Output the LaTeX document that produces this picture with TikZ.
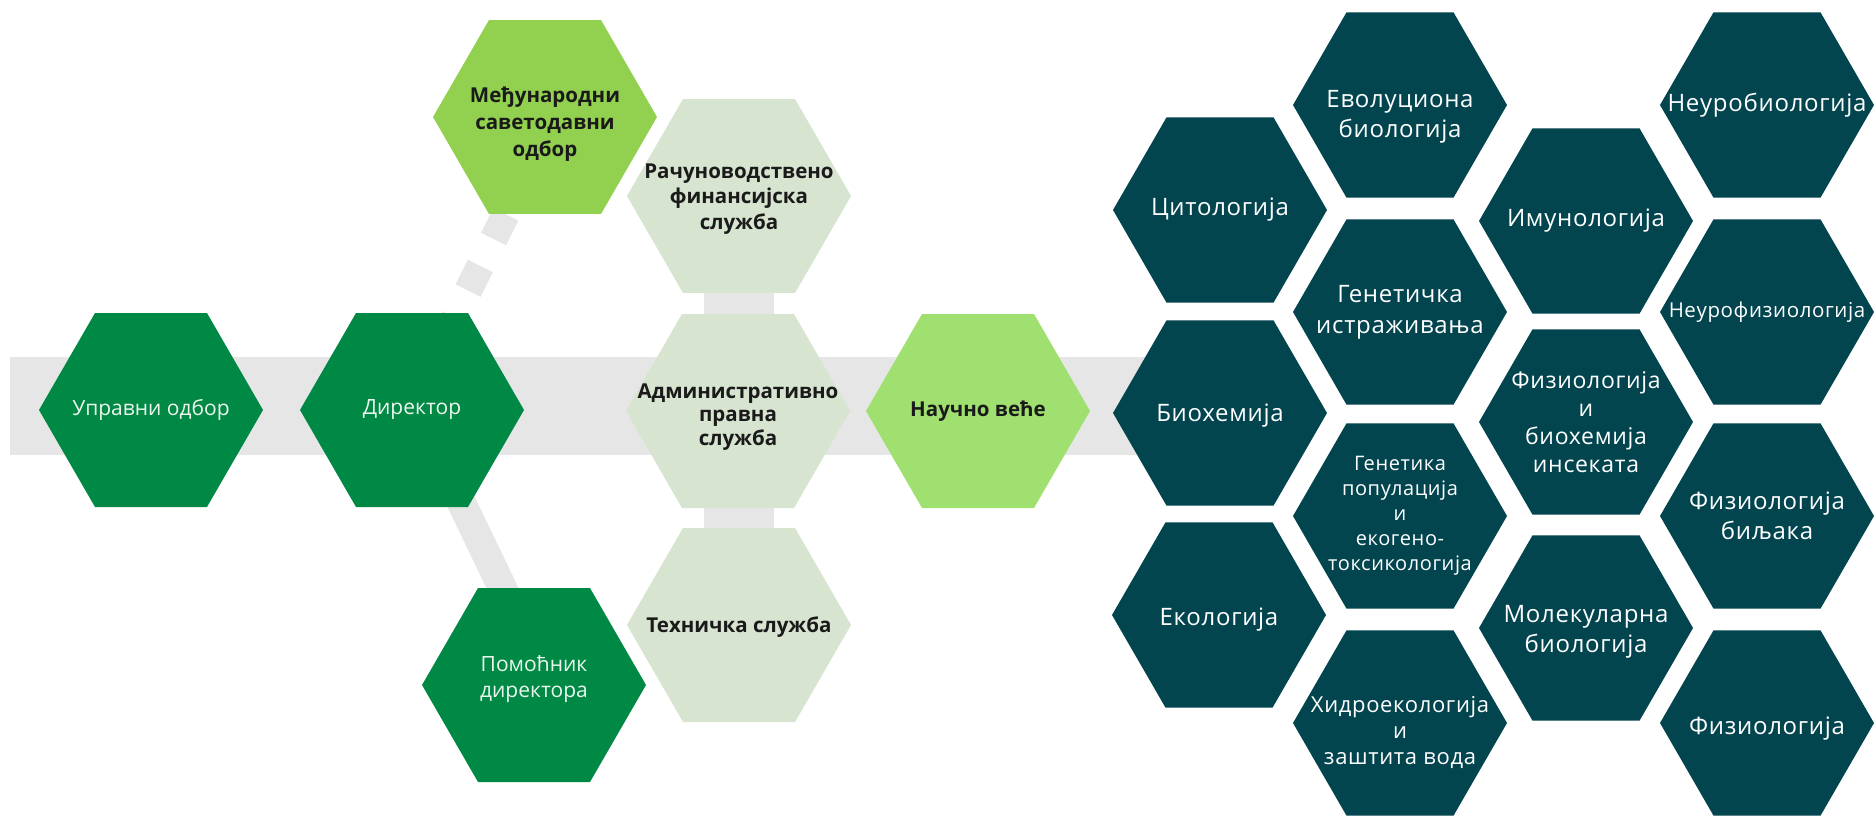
\documentclass[tikz,border=0pt]{standalone}
\usepackage{fontspec}
\setmainfont{Open Sans}
\newfontfamily\spacedfont{Open Sans}[LetterSpace=3]
\usetikzlibrary{shapes.geometric,backgrounds}
\definecolor{dkgreen}{RGB}{0,137,68}
\definecolor{ltgreen}{RGB}{146,208,80}
\definecolor{ltgreenB}{RGB}{160,224,112}
\definecolor{palegreen}{RGB}{214,228,208}
\definecolor{hexteal}{RGB}{2,69,79}
\definecolor{bargrey}{RGB}{230,230,230}
\definecolor{darktext}{RGB}{26,26,26}
\definecolor{lighttext}{RGB}{236,246,238}
\begin{document}
\begin{tikzpicture}[x=1pt,y=-1pt,
  hexL/.style={regular polygon, regular polygon sides=6, minimum size=224pt, inner sep=0pt, outer sep=0pt, draw=none},
  hexR/.style={regular polygon, regular polygon sides=6, minimum size=214pt, inner sep=0pt, outer sep=0pt, draw=none, fill=hexteal},
  lbl/.style={align=center, inner sep=0pt},
  wtxt/.style={lbl, text=lighttext, font=\fontsize{21}{26}\selectfont},
  btxt/.style={lbl, text=darktext, font=\bfseries\fontsize{20.5}{25.5}\selectfont},
  rtxt/.style={lbl, text=white, font=\spacedfont\fontsize{24}{30}\selectfont},
  conn/.style={draw=bargrey}
]
\useasboundingbox (0,0) rectangle (1874,816);

% ---- hexagon nodes (left part)
\node[hexL, fill=dkgreen] (upr) at (151,410) {};
\node[hexL, fill=dkgreen] (dir) at (412,410) {};
\node[hexL, fill=ltgreen] (mej) at (545,117) {};
\node[hexL, fill=dkgreen] (pom) at (534,685) {};
\node[hexL, fill=palegreen] (rac) at (739,196) {};
\node[hexL, fill=palegreen] (adm) at (738,411) {};
\node[hexL, fill=palegreen] (teh) at (739,625) {};
\node[hexL, fill=ltgreenB] (nauc) at (978,411) {};

% ---- right part
\node[hexR] (cit) at (1220,210) {};
\node[hexR] (bio) at (1220,413) {};
\node[hexR] (eko) at (1219,615) {};
\node[hexR] (evo) at (1400,105) {};
\node[hexR] (gen) at (1400,312) {};
\node[hexR] (gpop) at (1400,516) {};
\node[hexR] (hid) at (1400,723) {};
\node[hexR] (imu) at (1586,221) {};
\node[hexR] (fbi) at (1586,422) {};
\node[hexR] (mol) at (1586,628) {};
\node[hexR] (nbio) at (1767,105) {};
\node[hexR] (nfiz) at (1767,312) {};
\node[hexR] (fbil) at (1767,516) {};
\node[hexR] (fiz) at (1767,723) {};

% ---- connectors (behind)
\coordinate (barL) at (10,406);
\coordinate (barR) at (1220,406);
\begin{pgfonlayer}{background}
\fill[white] (0,0) rectangle (1874,816);
\path[conn, line width=98pt] (barL) -- (barR);
\path[conn, line width=70pt] (rac) -- (teh);
\path[conn, line width=29pt] ([xshift=5pt]dir.center) -- ([xshift=15pt]pom.center);
\path[conn, line width=28pt, dash pattern=on 27.5pt off 30pt, dash phase=39.25pt] ([xshift=-3pt]dir.center) -- ([xshift=9pt]mej.center);
\end{pgfonlayer}

% ---- texts (yshift > 0 moves up)
\node[wtxt] (upr-t) at (upr) {Управни одбор};
\node[wtxt] (dir-t) at (dir) {Директор};
\node[btxt, font=\bfseries\fontsize{20.5}{27}\selectfont] (mej-t) at ([yshift=-7pt]mej.center) {Међународни\\саветодавни\\одбор};
\node[wtxt] (pom-t) at ([yshift=6pt]pom.center) {Помоћник\\директора};
\node[btxt] (rac-t) at ([yshift=-3pt]rac.center) {Рачуноводствено\\финансијска\\служба};
\node[btxt, font=\bfseries\fontsize{20.5}{23.5}\selectfont] (adm-t) at ([yshift=-6pt]adm.center) {Административно\\правна\\служба};
\node[btxt] (teh-t) at ([yshift=-2pt]teh.center) {Техничка служба};
\node[btxt] (nauc-t) at (nauc) {Научно веће};

\node[rtxt] (cit-t) at (cit) {Цитологија};
\node[rtxt] (bio-t) at ([yshift=-3pt]bio.center) {Биохемија};
\node[rtxt] (eko-t) at ([yshift=-5pt]eko.center) {Екологија};
\node[rtxt] (evo-t) at ([yshift=-12pt]evo.center) {Еволуциона\\биологија};
\node[rtxt, font=\spacedfont\fontsize{24}{31}\selectfont] (gen-t) at (gen) {Генетичка\\истраживања};
\node[rtxt, font=\spacedfont\fontsize{20}{25}\selectfont] (gpop-t) at (gpop) {Генетика\\популација\\и\\екогено-\\токсикологија};
\node[rtxt, font=\spacedfont\fontsize{22}{26}\selectfont] (hid-t) at ([yshift=-9pt]hid.center) {Хидроекологија\\и\\заштита вода};
\node[rtxt] (imu-t) at (imu) {Имунологија};
\node[rtxt, font=\spacedfont\fontsize{23}{28}\selectfont] (fbi-t) at (fbi) {Физиологија\\и\\биохемија\\инсеката};
\node[rtxt] (mol-t) at ([yshift=-4pt]mol.center) {Молекуларна\\биологија};
\node[rtxt] (nbio-t) at (nbio) {Неуробиологија};
\node[rtxt, font=\spacedfont\fontsize{20.5}{26}\selectfont] (nfiz-t) at (nfiz) {Неурофизиологија};
\node[rtxt] (fbil-t) at (fbil) {Физиологија\\биљака};
\node[rtxt] (fiz-t) at ([yshift=-6pt]fiz.center) {Физиологија};
\end{tikzpicture}
\end{document}
